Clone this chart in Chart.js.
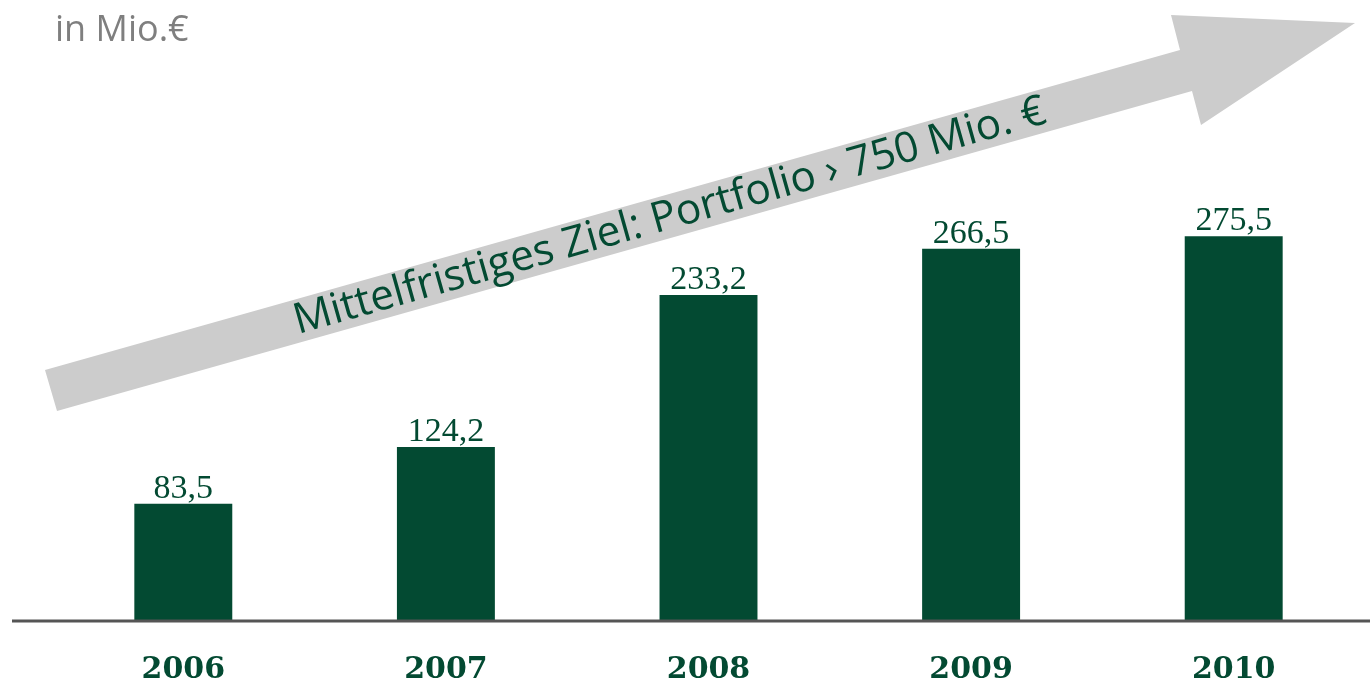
<!DOCTYPE html>
<html>
<head>
<meta charset="utf-8">
<script src="https://cdn.jsdelivr.net/npm/chart.js@4.4.0/dist/chart.umd.min.js"></script>
<style>
  html, body { margin: 0; padding: 0; background: #fff; }
  #wrap { position: relative; width: 1370px; height: 683px; }
</style>
</head>
<body>
<div id="wrap"><canvas id="portfolioChart"></canvas></div>
<script>
// Daten
const years = ["2006", "2007", "2008", "2009", "2010"];
const portfolio = [83.5, 124.2, 233.2, 266.5, 275.5];
const unitLabel = "in Mio.€";
const goalText = "Mittelfristiges Ziel: Portfolio › 750 Mio. €";

const green = "#034a32";

// Pfeil + Einheit + Grundlinie
const decorPlugin = {
  id: "decor",
  beforeDatasetsDraw(chart) {
    const ctx = chart.ctx;
    ctx.save();
    // grauer Pfeil
    ctx.fillStyle = "#cccccc";
    ctx.beginPath();
    ctx.moveTo(45, 370);
    ctx.lineTo(1180, 50);
    ctx.lineTo(1171, 15);
    ctx.lineTo(1355, 23);
    ctx.lineTo(1201, 125);
    ctx.lineTo(1192, 91);
    ctx.lineTo(57, 411);
    ctx.closePath();
    ctx.fill();

    // Text im Pfeil
    ctx.translate(298, 334);
    ctx.rotate(Math.atan2(-320, 1135));
    let size = 34;
    ctx.font = size + "px 'Open Sans'";
    const w = ctx.measureText(goalText).width;
    size = size * 780 / w;
    ctx.font = size + "px 'Open Sans'";
    ctx.fillStyle = green;
    ctx.textBaseline = "alphabetic";
    ctx.fillText(goalText, 0, 0);
    ctx.restore();

    // Einheit
    ctx.save();
    ctx.fillStyle = "#7f7f7f";
    ctx.font = "36px 'Open Sans'";
    ctx.textBaseline = "alphabetic";
    ctx.fillText(unitLabel, 55, 41);
    ctx.restore();
  },
  afterDatasetsDraw(chart) {
    const ctx = chart.ctx;
    const y0 = chart.scales.y.getPixelForValue(0);
    ctx.save();
    ctx.strokeStyle = "#555555";
    ctx.lineWidth = 3;
    ctx.beginPath();
    ctx.moveTo(12, y0 + 1);
    ctx.lineTo(chart.width, y0 + 1);
    ctx.stroke();

    // Werte über den Balken
    const meta = chart.getDatasetMeta(0);
    ctx.fillStyle = green;
    ctx.font = "34px 'Liberation Serif'";
    ctx.textAlign = "center";
    ctx.textBaseline = "alphabetic";
    meta.data.forEach((bar, i) => {
      const txt = portfolio[i].toFixed(1).replace(".", ",");
      ctx.fillText(txt, bar.x, bar.y - 6);
    });
    ctx.restore();
  }
};

const ctx = document.getElementById("portfolioChart").getContext("2d");
new Chart(ctx, {
  type: "bar",
  data: {
    labels: years,
    datasets: [{
      data: portfolio,
      backgroundColor: green,
      borderWidth: 0,
      barPercentage: 0.373,
      categoryPercentage: 1
    }]
  },
  options: {
    responsive: true,
    maintainAspectRatio: false,
    animation: false,
    layout: { padding: { left: 52, right: 5, top: 7, bottom: 0 } },
    plugins: {
      legend: { display: false },
      tooltip: { enabled: false }
    },
    scales: {
      x: {
        grid: { display: false, drawTicks: false, tickLength: 0 },
        border: { display: false },
        ticks: {
          color: green,
          padding: 35,
          font: { family: "'DejaVu Serif'", size: 30, weight: "bold", lineHeight: 1 }
        },
        afterFit(scale) { scale.height = 63; }
      },
      y: {
        display: false,
        min: 0,
        max: 440
      }
    }
  },
  plugins: [decorPlugin]
});
</script>
</body>
</html>
